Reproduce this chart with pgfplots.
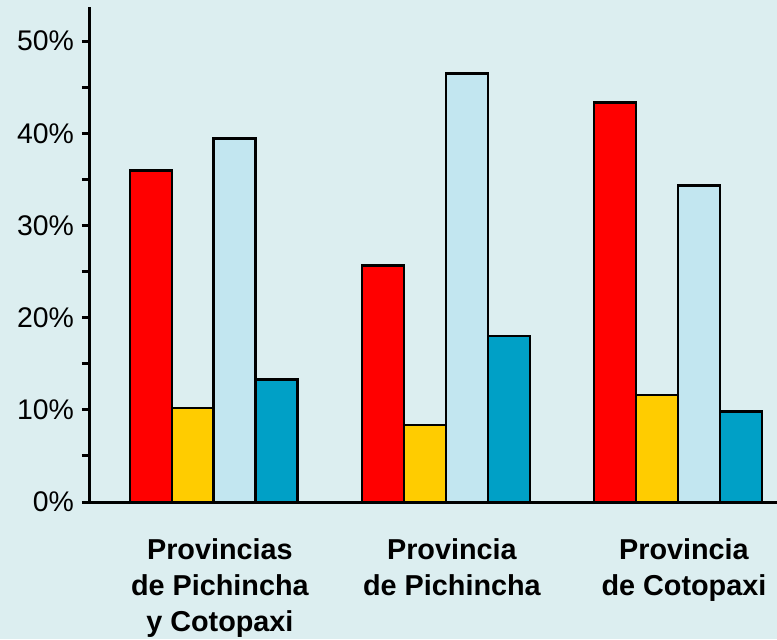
\documentclass[border=0pt]{standalone}
\usepackage{pgfplots}
\pgfplotsset{compat=1.18}
\usepackage{fontspec}
\setmainfont{Liberation Sans}
\definecolor{bgc}{RGB}{220,238,240}
\definecolor{cred}{RGB}{255,0,0}
\definecolor{cyel}{RGB}{255,204,0}
\definecolor{clb}{RGB}{194,230,240}
\definecolor{cbl}{RGB}{0,160,198}
\begin{document}
\begin{tikzpicture}
\fill[bgc] (0,0) rectangle (388.5pt,319.5pt);
\path[use as bounding box] (0,0) rectangle (388.5pt,319.5pt);
\begin{axis}[
  at={(45pt,68.5pt)}, anchor=south west,
  scale only axis, width=343.5pt, height=247.5pt,
  xmin=-0.534, xmax=2.427, ymin=0, ymax=53.7,
  axis x line=bottom, axis y line=left,
  axis line style={-, line width=1.5pt, black},
  ybar=0pt, bar width=0.181,
  xtick={0,1,2},
  xticklabels={{Provincias\\de Pichincha\\y Cotopaxi},{Provincia\\de Pichincha},{Provincia\\de Cotopaxi}},
  xticklabel style={align=center, font=\fontsize{14.4}{18}\selectfont\bfseries, yshift=-11pt, xshift=3pt},
  ytick={0,10,20,30,40,50},
  yticklabels={0\%,10\%,20\%,30\%,40\%,50\%},
  yticklabel style={font=\fontsize{14.2}{16}\selectfont, xshift=-0.5pt},
  minor y tick num=1,
  tick align=outside,
  major tick length=4pt, minor tick length=4pt,
  tick style={line width=1.5pt, black},
  xtick style={draw=none},
  every axis plot/.append style={draw=black, line width=1.4pt},
]
\addplot[fill=cred] coordinates {(0,36.0) (1,25.7) (2,43.3)};
\addplot[fill=cyel] coordinates {(0,10.2) (1,8.35) (2,11.6)};
\addplot[fill=clb] coordinates {(0,39.4) (1,46.5) (2,34.3)};
\addplot[fill=cbl] coordinates {(0,13.3) (1,18.0) (2,9.8)};
\end{axis}
\end{tikzpicture}
\end{document}
